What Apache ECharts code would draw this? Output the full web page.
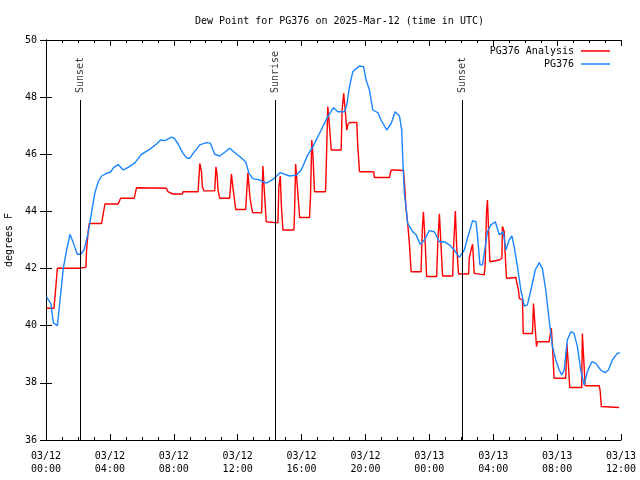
<!DOCTYPE html>
<html>
<head>
<meta charset="utf-8">
<script src="https://cdn.jsdelivr.net/npm/echarts@6/dist/echarts.min.js"></script>
<style>html,body{margin:0;padding:0;background:#fff}#c{width:640px;height:480px}</style>
</head>
<body>
<div id="c"></div>
<script>
// hours since 2025-03-12 00:00 UTC
var xTickLabels = ['03/12\n00:00','03/12\n04:00','03/12\n08:00','03/12\n12:00','03/12\n16:00','03/12\n20:00','03/13\n00:00','03/13\n04:00','03/13\n08:00','03/13\n12:00'];
var yTicks = [36,38,40,42,44,46,48,50];

var stationTimes = [0.04,0.31,0.46,0.71,0.88,1.08,1.29,1.5,1.71,1.96,2.17,2.38,2.64,2.86,3.06,3.27,3.48,3.79,4.04,4.25,4.52,4.83,5.14,5.56,5.98,6.08,6.5,6.92,7.17,7.44,7.86,8.06,8.27,8.58,8.83,9.0,9.21,9.63,10.04,10.29,10.56,10.88,11.19,11.5,11.81,12.13,12.5,12.71,12.96,13.27,13.79,14.21,14.67,15.25,15.67,15.98,16.39,16.71,17.23,17.64,18.0,18.27,18.69,18.83,19.0,19.21,19.42,19.63,19.88,20.04,20.25,20.46,20.77,20.98,21.33,21.61,21.86,22.13,22.27,22.33,22.44,22.54,22.64,22.96,23.17,23.42,23.69,24.0,24.31,24.63,24.94,25.25,25.56,25.88,26.19,26.39,26.71,26.92,27.02,27.17,27.33,27.5,27.64,27.86,28.13,28.38,28.63,28.79,29.0,29.17,29.31,29.52,29.73,29.94,30.14,30.36,30.63,30.88,31.08,31.29,31.5,31.71,31.92,32.13,32.29,32.44,32.64,32.86,33.06,33.27,33.48,33.69,33.89,34.17,34.42,34.73,35.0,35.21,35.46,35.77,35.94];
var stationValues = [41.0,40.76,40.1,40.0,40.9,42.0,42.65,43.2,42.9,42.5,42.5,42.65,43.25,44.0,44.65,45.04,45.24,45.33,45.38,45.54,45.64,45.45,45.54,45.7,46.0,46.06,46.18,46.36,46.5,46.48,46.6,46.54,46.36,46.03,45.86,45.86,46.03,46.33,46.41,46.39,46.0,45.94,46.07,46.21,46.06,45.92,45.74,45.33,45.14,45.12,44.99,45.12,45.36,45.24,45.27,45.45,45.98,46.27,46.85,47.32,47.63,47.49,47.49,47.72,48.37,48.89,49.0,49.09,49.07,48.6,48.25,47.55,47.46,47.2,46.85,47.08,47.49,47.34,46.85,45.92,44.6,44.17,43.58,43.29,43.18,42.85,43.0,43.33,43.29,42.94,42.94,42.83,42.65,42.39,42.65,43.06,43.68,43.64,43.12,42.13,42.13,42.77,43.29,43.53,43.64,43.18,43.29,42.65,43.0,43.14,42.77,42.07,41.25,40.69,40.73,41.25,41.95,42.21,42.0,41.25,40.2,39.27,38.8,38.45,38.28,38.45,39.5,39.79,39.73,39.27,38.45,37.93,38.39,38.74,38.68,38.45,38.36,38.45,38.8,39.03,39.05];

var analysisTimes = [0.04,0.5,0.61,0.71,2.13,2.5,2.54,2.64,2.71,3.48,3.69,4.52,4.67,5.52,5.67,7.54,7.63,7.94,8.54,8.58,9.52,9.63,9.73,9.79,9.88,10.56,10.64,10.71,10.77,10.88,11.5,11.61,11.71,11.88,12.5,12.64,12.77,12.88,12.94,13.5,13.58,13.69,13.79,14.52,14.58,14.67,14.73,14.83,15.52,15.56,15.63,15.77,15.88,16.5,16.56,16.64,16.71,16.81,17.5,17.54,17.64,17.75,17.86,18.48,18.54,18.64,18.75,18.83,18.89,19.0,19.46,19.52,19.63,20.52,20.56,21.5,21.61,21.81,21.92,22.38,22.44,22.54,22.64,22.75,22.86,23.48,23.56,23.63,23.75,23.83,24.46,24.52,24.63,24.73,24.83,25.46,25.52,25.63,25.71,25.83,26.46,26.5,26.61,26.71,26.81,26.88,27.44,27.5,27.58,27.64,27.71,27.79,27.86,28.38,28.54,28.58,28.69,28.75,28.83,29.42,29.46,29.58,29.63,29.67,29.83,29.88,30.46,30.52,30.63,30.71,30.77,31.5,31.54,31.64,31.71,31.81,32.54,32.61,32.71,32.79,33.54,33.58,33.69,33.75,34.63,34.69,34.77,34.83,35.88];
var analysisValues = [40.61,40.61,41.31,42.01,42.01,42.05,42.65,43.29,43.58,43.58,44.26,44.26,44.46,44.46,44.83,44.81,44.69,44.61,44.61,44.69,44.69,45.68,45.4,44.87,44.72,44.72,45.56,45.3,44.75,44.46,44.46,45.31,44.8,44.07,44.07,45.36,44.5,44.11,43.96,43.95,45.59,44.52,43.64,43.6,44.87,45.24,44.28,43.35,43.35,43.94,45.66,44.63,43.79,43.79,44.52,46.5,46.0,44.69,44.69,45.45,47.67,46.97,46.15,46.15,47.55,48.13,47.43,46.85,47.03,47.11,47.11,46.27,45.39,45.39,45.19,45.19,45.45,45.45,45.39,45.43,45.04,44.11,43.6,42.9,41.89,41.89,43.35,43.99,42.8,41.72,41.72,42.77,43.92,42.83,41.74,41.74,42.8,44.01,42.8,41.81,41.81,42.36,42.65,42.85,41.83,41.78,41.78,42.18,43.99,44.4,43.35,42.24,42.3,42.3,42.36,43.47,43.29,42.5,41.66,41.69,41.54,41.25,40.96,40.9,40.9,39.73,39.73,40.78,40.84,39.27,39.44,39.44,39.6,39.91,39.27,38.16,38.16,39.38,38.6,37.84,37.84,39.73,38.6,37.9,37.9,37.75,37.17,37.14,37.14];

var eventTimes = [2.15, 14.37, 26.08];
var eventNames = ['Sunset', 'Sunrise', 'Sunset'];
var eventTop = 47.9;

function pairs(t, v) { return t.map(function (x, i) { return [x, v[i]]; }); }

var FONT = 'DejaVu Sans Mono';
var chart = echarts.init(document.getElementById('c'), null, {renderer: 'canvas'});

var markLines = eventTimes.map(function (t) { return [{coord: [t, 36]}, {coord: [t, eventTop]}]; });
var eventPoints = eventTimes.map(function (t, i) { return {value: [t, eventTop], name: eventNames[i]}; });

var axisLabelStyle = {color: '#000', fontFamily: FONT, fontSize: 10};
var legendText = {fontFamily: FONT, fontSize: 10, color: '#000', padding: [0, 2, 0, 0]};

chart.setOption({
  animation: false,
  backgroundColor: '#fff',
  title: {
    text: 'Dew Point for PG376 on 2025-Mar-12 (time in UTC)',
    left: 190, top: 11,
    textStyle: {fontFamily: FONT, fontSize: 10, fontWeight: 'normal', color: '#000'}
  },
  legend: [
    {data: [{name: 'PG376 Analysis', icon: 'rect'}], right: 25, top: 41, align: 'right', itemWidth: 29, itemHeight: 1.5,
     textStyle: legendText},
    {data: [{name: 'PG376', icon: 'rect'}], right: 25, top: 54, align: 'right', itemWidth: 29, itemHeight: 1.5,
     textStyle: legendText}
  ],
  grid: {left: 46, right: 19, top: 40, bottom: 40, containLabel: false, outerBoundsMode: 'none'},
  xAxis: [
    {type: 'value', min: 0, max: 36, interval: 4, position: 'bottom',
     axisLine: {lineStyle: {color: '#000', width: 1}},
     axisTick: {inside: true, length: 6, lineStyle: {color: '#000'}},
     minorTick: {show: true, splitNumber: 4, length: 3, lineStyle: {color: '#000'}},
     splitLine: {show: false},
     axisLabel: Object.assign({margin: 10, lineHeight: 13, formatter: function (v) { return xTickLabels[Math.round(v / 4)]; }}, axisLabelStyle)},
    {type: 'value', min: 0, max: 36, interval: 4, position: 'top',
     axisLine: {lineStyle: {color: '#000', width: 1}},
     axisTick: {inside: true, length: 6, lineStyle: {color: '#000'}},
     minorTick: {show: true, splitNumber: 4, length: 3, lineStyle: {color: '#000'}},
     splitLine: {show: false}, axisLabel: {show: false}}
  ],
  yAxis: [
    {type: 'value', min: yTicks[0], max: yTicks[yTicks.length - 1], interval: 2, position: 'left',
     name: 'degrees F', nameLocation: 'middle', nameGap: 29,
     nameTextStyle: {fontFamily: FONT, fontSize: 10, color: '#000'},
     axisLine: {show: true, lineStyle: {color: '#000', width: 1}},
     axisTick: {show: true, inside: true, length: 6, lineStyle: {color: '#000'}},
     splitLine: {show: false},
     axisLabel: Object.assign({margin: 9}, axisLabelStyle)},
    {type: 'value', min: yTicks[0], max: yTicks[yTicks.length - 1], interval: 2, position: 'right',
     axisLine: {show: true, lineStyle: {color: '#000', width: 1}},
     axisTick: {show: true, inside: true, length: 6, lineStyle: {color: '#000'}},
     splitLine: {show: false}, axisLabel: {show: false}}
  ],
  series: [
    {name: 'PG376 Analysis', type: 'line', data: pairs(analysisTimes, analysisValues),
     symbol: 'none', color: '#ff0000', lineStyle: {color: '#ff0000', width: 1.4}},
    {name: 'PG376', type: 'line', data: pairs(stationTimes, stationValues),
     symbol: 'none', color: '#1a85ff', lineStyle: {color: '#1a85ff', width: 1.4}},
    {name: 'events', type: 'scatter', data: eventPoints, symbolSize: 0, silent: true,
     label: {show: true, formatter: function (p) { return p.name; }, rotate: 90, position: 'top', distance: 7,
             align: 'left', verticalAlign: 'middle', fontFamily: FONT, fontSize: 10, color: '#000'},
     markLine: {silent: true, symbol: 'none', label: {show: false},
                lineStyle: {color: '#000', width: 1, type: 'solid'}, data: markLines}}
  ]
});
</script>
</body>
</html>
